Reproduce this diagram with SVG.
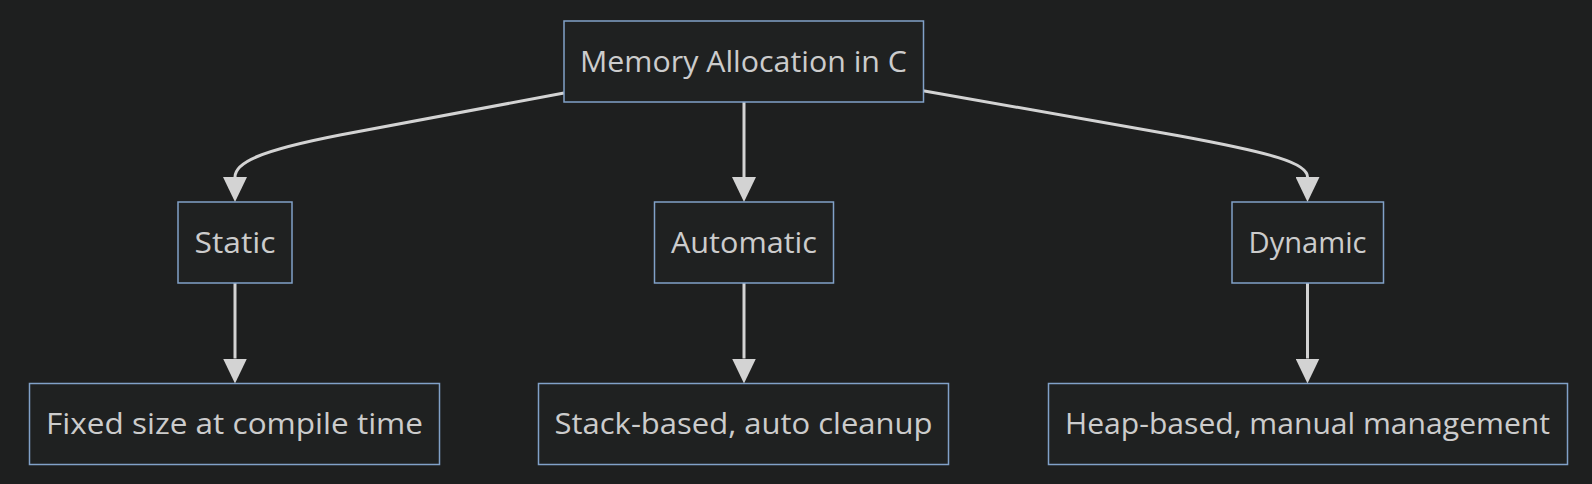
<svg xmlns="http://www.w3.org/2000/svg" width="1592" height="484" viewBox="0 0 1592 484">
<style>
.bg{fill:#1e1f1f}
.node rect{fill:#1f2121;stroke:#81a1c8;stroke-width:1.5}
.node text{font-family:"Open Sans","DejaVu Sans",sans-serif;font-size:29px;fill:#cccccc;text-anchor:middle}
.edge{fill:none;stroke:#d3d3d3;stroke-width:3}
</style>
<defs>
<marker id="arrow" viewBox="0 0 25 24" refX="0" refY="12" markerWidth="25" markerHeight="24" markerUnits="userSpaceOnUse" orient="auto">
<path d="M0,0 L25,12 L0,24 z" fill="#d3d3d3"/>
</marker>
</defs>
<rect class="bg" x="0" y="0" width="1592" height="484"/>
<g id="connectors">
<path class="edge" marker-end="url(#arrow)" d="M564,93 L340,135 C258,151 235,163 235,177"/>
<path class="edge" marker-end="url(#arrow)" d="M744,102 L744,177"/>
<path class="edge" marker-end="url(#arrow)" d="M923,90.7 L1180,136 C1272,153 1307.5,163 1307.5,177"/>
<path class="edge" marker-end="url(#arrow)" d="M235,283 L235,358.5"/>
<path class="edge" marker-end="url(#arrow)" d="M744,283 L744,358.5"/>
<path class="edge" marker-end="url(#arrow)" d="M1307.5,283 L1307.5,358.5"/>
</g>
<g id="root" class="node">
<rect x="564" y="21" width="359.5" height="81"/>
<text x="743.5" y="72" textLength="327" lengthAdjust="spacingAndGlyphs">Memory Allocation in C</text>
</g>
<g id="static" class="node">
<rect x="178" y="202" width="114" height="81"/>
<text x="235" y="253" textLength="81" lengthAdjust="spacingAndGlyphs">Static</text>
</g>
<g id="automatic" class="node">
<rect x="654.5" y="202" width="179" height="81"/>
<text x="744" y="253" textLength="146" lengthAdjust="spacingAndGlyphs">Automatic</text>
</g>
<g id="dynamic" class="node">
<rect x="1232" y="202" width="151.5" height="81"/>
<text x="1307.5" y="253" textLength="118" lengthAdjust="spacingAndGlyphs">Dynamic</text>
</g>
<g id="fixed" class="node">
<rect x="29.5" y="383.5" width="410" height="81"/>
<text x="234.5" y="434" textLength="377" lengthAdjust="spacingAndGlyphs">Fixed size at compile time</text>
</g>
<g id="stack" class="node">
<rect x="538.5" y="383.5" width="410" height="81"/>
<text x="743.5" y="434" textLength="378" lengthAdjust="spacingAndGlyphs">Stack-based, auto cleanup</text>
</g>
<g id="heap" class="node">
<rect x="1048.5" y="383.5" width="519" height="81"/>
<text x="1307.5" y="434" textLength="485" lengthAdjust="spacingAndGlyphs">Heap-based, manual management</text>
</g>
</svg>
